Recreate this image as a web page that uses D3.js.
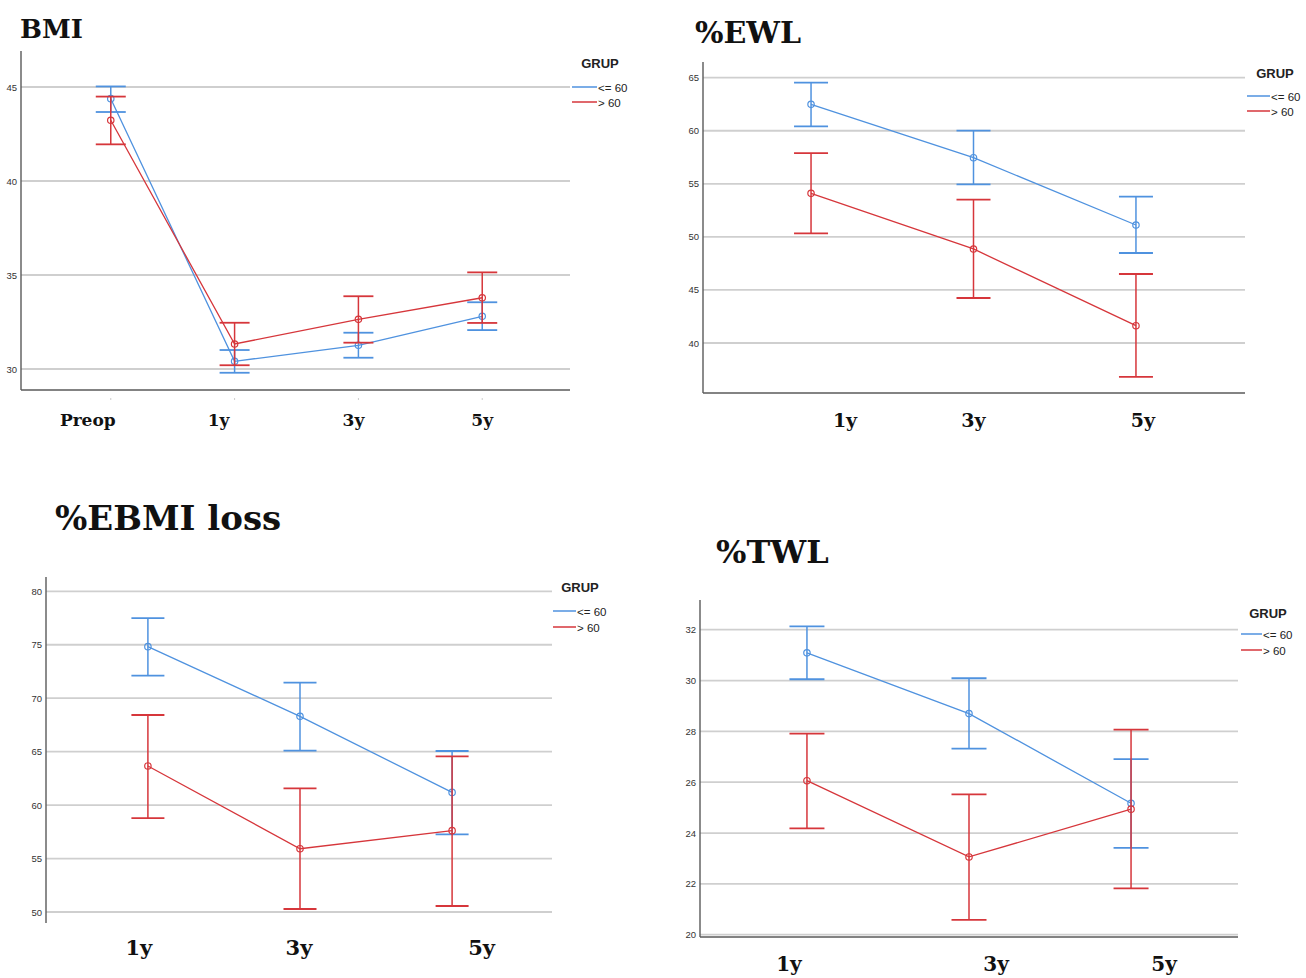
<!DOCTYPE html>
<html>
<head>
<meta charset="utf-8">
<script src="https://cdn.jsdelivr.net/npm/d3@7"></script>
<style>
  html, body { margin: 0; padding: 0; background: #fff; }
  svg { display: block; }
</style>
</head>
<body>
<svg id="chart" width="1306" height="978"></svg>
<script>
// ---------------- DATA ----------------
const groups = ["<= 60", "> 60"];
const legendTitle = "GRUP";

// BMI
const bmiCategories = ["Preop", "1y", "3y", "5y"];
const bmiTicks = [30, 35, 40, 45];
const bmiLowMean = [44.38, 30.41, 31.26, 32.80];
const bmiLowUpper = [45.03, 31.01, 31.93, 33.55];
const bmiLowLower = [43.67, 29.80, 30.60, 32.07];
const bmiHighMean = [43.23, 31.33, 32.64, 33.79];
const bmiHighUpper = [44.49, 32.46, 33.87, 35.14];
const bmiHighLower = [41.95, 30.20, 31.40, 32.45];

// %EWL
const ewlCategories = ["1y", "3y", "5y"];
const ewlTicks = [40, 45, 50, 55, 60, 65];
const ewlLowMean = [62.49, 57.46, 51.12];
const ewlLowUpper = [64.53, 60.01, 53.79];
const ewlLowLower = [60.41, 54.95, 48.48];
const ewlHighMean = [54.10, 48.86, 41.63];
const ewlHighUpper = [57.90, 53.51, 46.50];
const ewlHighLower = [50.33, 44.24, 36.80];

// %EBMI loss
const ebmiCategories = ["1y", "3y", "5y"];
const ebmiTicks = [50, 55, 60, 65, 70, 75, 80];
const ebmiLowMean = [74.82, 68.30, 61.19];
const ebmiLowUpper = [77.50, 71.45, 65.06];
const ebmiLowLower = [72.11, 65.09, 57.27];
const ebmiHighMean = [63.66, 55.92, 57.61];
const ebmiHighUpper = [68.43, 61.57, 64.56];
const ebmiHighLower = [58.79, 50.28, 50.56];

// %TWL
const twlCategories = ["1y", "3y", "5y"];
const twlTicks = [20, 22, 24, 26, 28, 30, 32];
const twlLowMean = [31.09, 28.70, 25.17];
const twlLowUpper = [32.13, 30.09, 26.91];
const twlLowLower = [30.05, 27.32, 23.42];
const twlHighMean = [26.06, 23.06, 24.94];
const twlHighUpper = [27.91, 25.52, 28.07];
const twlHighLower = [24.18, 20.58, 21.82];

// ---------------- STYLE / LAYOUT ----------------
const colors = ["#4f92df", "#d6363b"];
const gridColor = "#cfcfcf";
const axisColor = "#5a5a5a";
const titleFont = "'DejaVu Serif', serif";
const labelFont = "'DejaVu Serif', serif";
const sansFont = "'Liberation Sans', Arial, sans-serif";

const panels = [
  {
    title: "BMI", titleX: 20, titleY: 38, titleSize: 26,
    categories: bmiCategories, ticks: bmiTicks,
    series: [
      { mean: bmiLowMean, upper: bmiLowUpper, lower: bmiLowLower },
      { mean: bmiHighMean, upper: bmiHighUpper, lower: bmiHighLower }
    ],
    x0: 21, x1: 572, pad: 0.725, gridEnd: 570,
    yDomain: [30, 45], yRange: [369, 87], axisTop: 51, axisBottom: 390,
    xAxisLine: true, tinyTicks: true,
    capW: 30, labelSize: 17, labelY: 426, labelNudge: [-23, -16, -5, 0],
    legend: { titleX: 600, titleY: 65, lineX0: 572, lineX1: 597, y0: 87, y1: 102 }
  },
  {
    title: "%EWL", titleX: 695, titleY: 43, titleSize: 30,
    categories: ewlCategories, ticks: ewlTicks,
    series: [
      { mean: ewlLowMean, upper: ewlLowUpper, lower: ewlLowLower },
      { mean: ewlHighMean, upper: ewlHighUpper, lower: ewlHighLower }
    ],
    x0: 703, x1: 1244, pad: 0.665, gridEnd: 1245,
    yDomain: [40, 65], yRange: [343, 77.7], axisTop: 62, axisBottom: 393,
    xAxisLine: true, tinyTicks: false,
    capW: 34, labelSize: 19, labelY: 427, labelNudge: [34, 0, 7],
    legend: { titleX: 1275, titleY: 75, lineX0: 1247, lineX1: 1270, y0: 96, y1: 111 }
  },
  {
    title: "%EBMI loss", titleX: 55, titleY: 530, titleSize: 34,
    categories: ebmiCategories, ticks: ebmiTicks,
    series: [
      { mean: ebmiLowMean, upper: ebmiLowUpper, lower: ebmiLowLower },
      { mean: ebmiHighMean, upper: ebmiHighUpper, lower: ebmiHighLower }
    ],
    x0: 46, x1: 554, pad: 0.67, gridEnd: 552,
    yDomain: [50, 80], yRange: [912, 591.3], axisTop: 577, axisBottom: 923,
    xAxisLine: false, tinyTicks: false,
    capW: 33, labelSize: 21, labelY: 955, labelNudge: [-9, -1, 29.5],
    legend: { titleX: 580, titleY: 589, lineX0: 553, lineX1: 576, y0: 611, y1: 627 }
  },
  {
    title: "%TWL", titleX: 716, titleY: 563, titleSize: 32,
    categories: twlCategories, ticks: twlTicks,
    series: [
      { mean: twlLowMean, upper: twlLowUpper, lower: twlLowLower },
      { mean: twlHighMean, upper: twlHighUpper, lower: twlHighLower }
    ],
    x0: 700, x1: 1238, pad: 0.66, gridEnd: 1238,
    yDomain: [20, 32], yRange: [934.7, 629.7], axisTop: 600, axisBottom: 937,
    xAxisLine: true, tinyTicks: false,
    capW: 35, labelSize: 20, labelY: 971, labelNudge: [-18, 27, 33],
    legend: { titleX: 1268, titleY: 615, lineX0: 1241, lineX1: 1262, y0: 634, y1: 650 }
  }
];

// ---------------- DRAW ----------------
const svg = d3.select("#chart");

panels.forEach(p => {
  const g = svg.append("g");
  const x = d3.scalePoint().domain(p.categories).range([p.x0, p.x1]).padding(p.pad);
  const y = d3.scaleLinear().domain(p.yDomain).range(p.yRange);

  // title
  g.append("text")
    .attr("x", p.titleX).attr("y", p.titleY)
    .attr("font-family", titleFont).attr("font-weight", "bold")
    .attr("font-size", p.titleSize).attr("fill", "#111")
    .text(p.title);

  // gridlines
  g.append("g").selectAll("line").data(p.ticks).join("line")
    .attr("x1", p.x0).attr("x2", p.gridEnd)
    .attr("y1", d => y(d)).attr("y2", d => y(d))
    .attr("stroke", gridColor).attr("stroke-width", 1.8);

  // y axis via d3.axisLeft
  const yAxis = d3.axisLeft(y).tickValues(p.ticks).tickSize(0).tickPadding(4).tickFormat(d3.format("d"));
  const ya = g.append("g").attr("transform", `translate(${p.x0},0)`).call(yAxis);
  ya.select(".domain").remove();
  ya.selectAll("text")
    .attr("font-family", sansFont).attr("font-size", 9.5).attr("fill", "#333");
  g.append("line")
    .attr("x1", p.x0).attr("x2", p.x0).attr("y1", p.axisTop).attr("y2", p.axisBottom)
    .attr("stroke", axisColor).attr("stroke-width", 1.4);

  if (p.xAxisLine) {
    g.append("line")
      .attr("x1", p.x0).attr("x2", p.gridEnd).attr("y1", p.axisBottom).attr("y2", p.axisBottom)
      .attr("stroke", axisColor).attr("stroke-width", 1.6);
  }
  if (p.tinyTicks) {
    g.append("g").selectAll("line").data(p.categories).join("line")
      .attr("x1", d => x(d)).attr("x2", d => x(d))
      .attr("y1", p.axisBottom + 8).attr("y2", p.axisBottom + 10)
      .attr("stroke", "#ccc").attr("stroke-width", 1);
  }

  // x labels
  g.append("g").selectAll("text").data(p.categories).join("text")
    .attr("x", (d, i) => x(d) + p.labelNudge[i])
    .attr("y", p.labelY)
    .attr("text-anchor", "middle")
    .attr("font-family", labelFont).attr("font-weight", "bold")
    .attr("font-size", p.labelSize).attr("fill", "#111")
    .text(d => d);

  // series
  p.series.forEach((s, si) => {
    const c = colors[si];
    const pts = p.categories.map((cat, i) => ({ cat, m: s.mean[i], hi: s.upper[i], lo: s.lower[i] }));
    const sg = g.append("g");
    // error bars
    sg.selectAll("line.v").data(pts).join("line").attr("class", "v")
      .attr("x1", d => x(d.cat)).attr("x2", d => x(d.cat))
      .attr("y1", d => y(d.hi)).attr("y2", d => y(d.lo))
      .attr("stroke", c).attr("stroke-width", 1.5);
    ["hi", "lo"].forEach(k => {
      sg.selectAll("line.c" + k).data(pts).join("line").attr("class", "c" + k)
        .attr("x1", d => x(d.cat) - p.capW / 2).attr("x2", d => x(d.cat) + p.capW / 2)
        .attr("y1", d => y(d[k])).attr("y2", d => y(d[k]))
        .attr("stroke", c).attr("stroke-width", 1.8);
    });
    // line
    sg.append("path").datum(pts)
      .attr("fill", "none").attr("stroke", c).attr("stroke-width", 1.3)
      .attr("d", d3.line().x(d => x(d.cat)).y(d => y(d.m)));
    // points
    sg.selectAll("circle").data(pts).join("circle")
      .attr("cx", d => x(d.cat)).attr("cy", d => y(d.m)).attr("r", 3.2)
      .attr("fill", "none").attr("stroke", c).attr("stroke-width", 1.2);
  });

  // legend
  const L = p.legend;
  g.append("text")
    .attr("x", L.titleX).attr("y", L.titleY)
    .attr("text-anchor", "middle").attr("dominant-baseline", "middle")
    .attr("font-family", sansFont).attr("font-weight", "bold")
    .attr("font-size", 13).attr("fill", "#222")
    .text(legendTitle);
  groups.forEach((gr, gi) => {
    const ly = gi === 0 ? L.y0 : L.y1;
    g.append("line")
      .attr("x1", L.lineX0).attr("x2", L.lineX1).attr("y1", ly).attr("y2", ly)
      .attr("stroke", colors[gi]).attr("stroke-width", 1.5);
    g.append("text")
      .attr("x", L.lineX1 + 1).attr("y", ly + 2)
      .attr("dominant-baseline", "middle")
      .attr("font-family", sansFont).attr("font-size", 11.5).attr("fill", "#222")
      .text(gr);
  });
});
</script>
</body>
</html>
